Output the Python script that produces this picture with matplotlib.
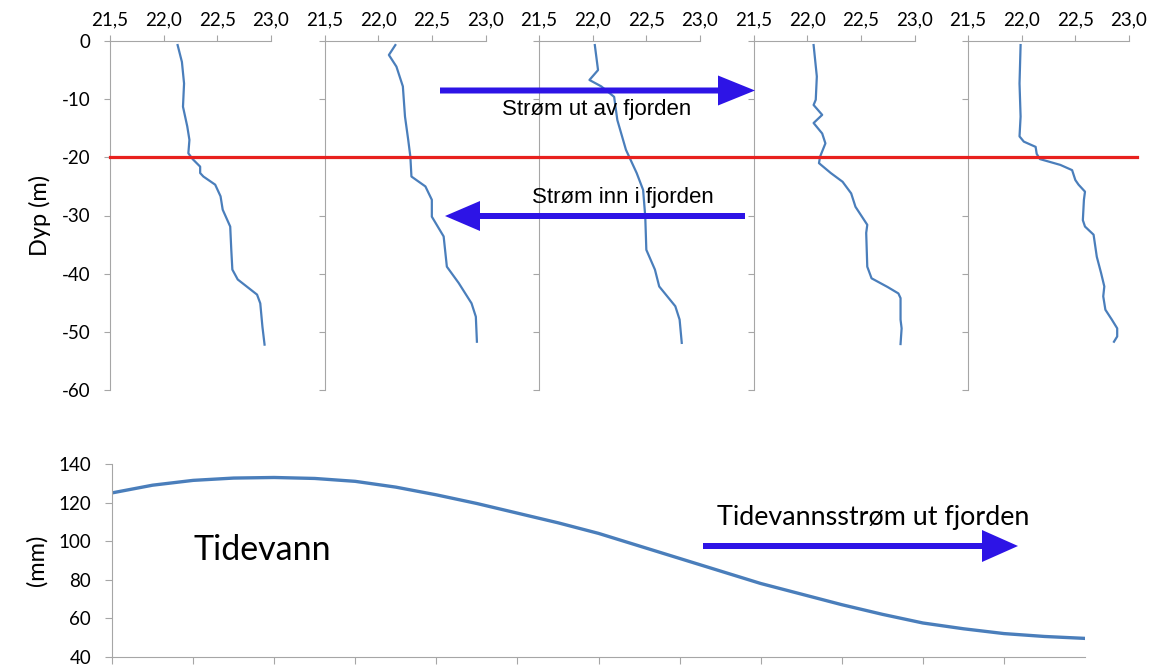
import matplotlib.pyplot as plt
import matplotlib.transforms as mtrans
from matplotlib.lines import Line2D
from matplotlib.patches import FancyArrow

plt.rcParams['axes.unicode_minus'] = False
plt.rcParams['font.family'] = ['Lato', 'DejaVu Sans']

# Temperature profiles (depth in m, temperature in C)
depth1 = [-0.7, -3.6, -7.3, -11.3, -14.7, -17, -19.3, -20.3, -21.6, -22.7, -23.3, -24.7, -26.7, -29, -31.9, -35.9,
          -39.3, -41, -43.6, -45.1, -49.1, -52.2]
temp1 = [22.13, 22.17, 22.19, 22.18, 22.22, 22.24, 22.23, 22.27, 22.34, 22.34, 22.37, 22.48, 22.53, 22.55, 22.62,
         22.63, 22.64, 22.69, 22.87, 22.90, 22.92, 22.94]

depth2 = [-0.7, -2.4, -4.4, -7.8, -13, -17, -19.9, -23.3, -25, -27.3, -30.2, -33.6, -38.8, -41.6, -45.1, -47.4, -51.7]
temp2 = [22.16, 22.10, 22.17, 22.23, 22.25, 22.28, 22.30, 22.31, 22.44, 22.50, 22.50, 22.61, 22.64, 22.75, 22.87,
         22.91, 22.92]

depth3 = [-0.7, -5, -6.7, -7.8, -9.6, -13.6, -18.7, -22.7, -25.6, -30.2, -35.9, -39.3, -42.2, -45.6, -47.9, -51.9]
temp3 = [22.02, 22.05, 21.97, 22.08, 22.20, 22.23, 22.31, 22.41, 22.47, 22.49, 22.50, 22.58, 22.62, 22.77, 22.81, 22.83]

depth4 = [-0.7, -6.1, -10.1, -11, -12.7, -14.1, -15.9, -17.6, -19.9, -21, -22.7, -24.2, -26.2, -28.5, -31.6, -33,
          -38.8, -40.8, -42.3, -43.4, -44.2, -47.9, -49.4, -52.1]
temp4 = [22.06, 22.09, 22.08, 22.06, 22.14, 22.06, 22.14, 22.17, 22.12, 22.11, 22.22, 22.33, 22.41, 22.45, 22.56,
         22.55, 22.56, 22.60, 22.75, 22.85, 22.87, 22.87, 22.88, 22.87]

depth5 = [-0.7, -7.3, -13, -16.4, -17.3, -18.2, -19.4, -20.3, -21.3, -22.2, -23.9, -24.7, -25.9, -27.3, -30.8, -31.9,
          -33.3, -37.1, -39.9, -42.2, -43.9, -46.2, -47.9, -49.4, -50.8, -51.7]
temp5 = [21.99, 21.98, 21.99, 21.98, 22.02, 22.13, 22.14, 22.17, 22.36, 22.47, 22.50, 22.53, 22.59, 22.58, 22.57,
         22.59, 22.67, 22.70, 22.74, 22.77, 22.76, 22.78, 22.84, 22.89, 22.89, 22.86]

profiles = [(temp1, depth1), (temp2, depth2), (temp3, depth3), (temp4, depth4), (temp5, depth5)]

temp_ticks = [21.5, 22.0, 22.5, 23.0]
temp_labels = ['21,5', '22,0', '22,5', '23,0']
depth_ticks = [0, -10, -20, -30, -40, -50, -60]

# Tide level (mm), read every half step along the category axis
tide_step = [0, 0.5, 1, 1.5, 2, 2.5, 3, 3.5, 4, 4.5, 5, 5.5, 6, 6.5, 7, 7.5, 8, 8.5, 9, 9.5, 10, 10.5, 11, 11.5, 12]
tide_mm = [125, 129, 131.5, 132.7, 133, 132.5, 131, 128, 124, 119.5, 114.5, 109.5, 104, 97.5, 91, 84.5, 78, 72.5,
           67, 62, 57.5, 54.5, 52, 50.5, 49.5]
tide_ticks = [0, 1, 2, 3, 4, 5, 6, 7, 8, 9, 10, 11]

W, H = 1152, 665
line_blue = '#4a7ebb'
arrow_blue = '#2d14e6'
grey = '#a6a6a6'

fig = plt.figure(figsize=(W / 100, H / 100), dpi=100)

axes = []
for i, (t, d) in enumerate(profiles):
    left = 110 + 214.5 * i
    ax = fig.add_axes([left / W, 1 - 390 / H, 161 / W, (390 - 41) / H])
    ax.plot(t, d, color=line_blue, lw=1.6)
    ax.set_xlim(21.5, 23.0)
    ax.set_ylim(-60, 0)
    ax.xaxis.tick_top()
    ax.set_xticks(temp_ticks)
    ax.set_xticklabels(temp_labels)
    ax.set_yticks(depth_ticks)
    if i > 0:
        ax.set_yticklabels([])
    for s in ['right', 'bottom']:
        ax.spines[s].set_visible(False)
    for s in ['left', 'top']:
        ax.spines[s].set_color(grey)
    ax.tick_params(direction='out', length=4, color=grey, labelsize=13.5, pad=5)
    ax.tick_params(axis='y', pad=10)
    ax.patch.set_alpha(0)
    axes.append(ax)

axes[0].set_ylabel('Dyp (m)', fontsize=17, labelpad=8)

# red line at -20 m across all panels
tr = mtrans.blended_transform_factory(fig.transFigure, axes[0].transData)
fig.add_artist(Line2D([110 / W, 1137 / W], [-20, -20], transform=tr, color='#e8201e', lw=2.3))

# tide panel
axt = fig.add_axes([112 / W, 1 - 656.7 / H, (1085 - 112) / W, (656.7 - 464) / H])
axt.plot(tide_step, tide_mm, color=line_blue, lw=2.4)
axt.set_xlim(0, 12)
axt.set_ylim(40, 140)
axt.set_yticks([40, 60, 80, 100, 120, 140])
axt.set_xticks(tide_ticks)
axt.set_xticklabels([])
for s in ['right', 'top']:
    axt.spines[s].set_visible(False)
for s in ['left', 'bottom']:
    axt.spines[s].set_color(grey)
axt.tick_params(direction='out', length=5, color=grey, labelsize=13.5)
axt.tick_params(axis='y', pad=10)
axt.set_ylabel('(mm)', fontsize=17, labelpad=8)
axt.text(193 / W, 1 - 550 / H, 'Tidevann', transform=fig.transFigure, fontsize=24.5, va='center', ha='left')

fig.text(717 / W, 1 - 518 / H, 'Tidevannsstrøm ut fjorden', fontsize=19.4, va='center', ha='left')

arial = ['Liberation Sans', 'DejaVu Sans']
fig.text(597 / W, 1 - 110 / H, 'Strøm ut av fjorden', fontsize=16, family=arial, ha='center', va='center')
fig.text(623 / W, 1 - 198 / H, 'Strøm inn i fjorden', fontsize=16, family=arial, ha='center', va='center')


def arrow(x0, x1, y, hl, hw, w):
    # pixel positions measured from top-left
    a = FancyArrow(x0 / 100, (H - y) / 100, (x1 - x0) / 100, 0, width=w / 100, head_width=hw / 100,
                   head_length=hl / 100, length_includes_head=True, color=arrow_blue, lw=0,
                   transform=fig.dpi_scale_trans)
    fig.add_artist(a)


arrow(440, 755, 90.5, 37, 30, 6)
arrow(745, 445, 216, 35, 30, 6)
arrow(703, 1018, 546, 36, 32, 6)

fig.savefig('out.png', dpi=100)
